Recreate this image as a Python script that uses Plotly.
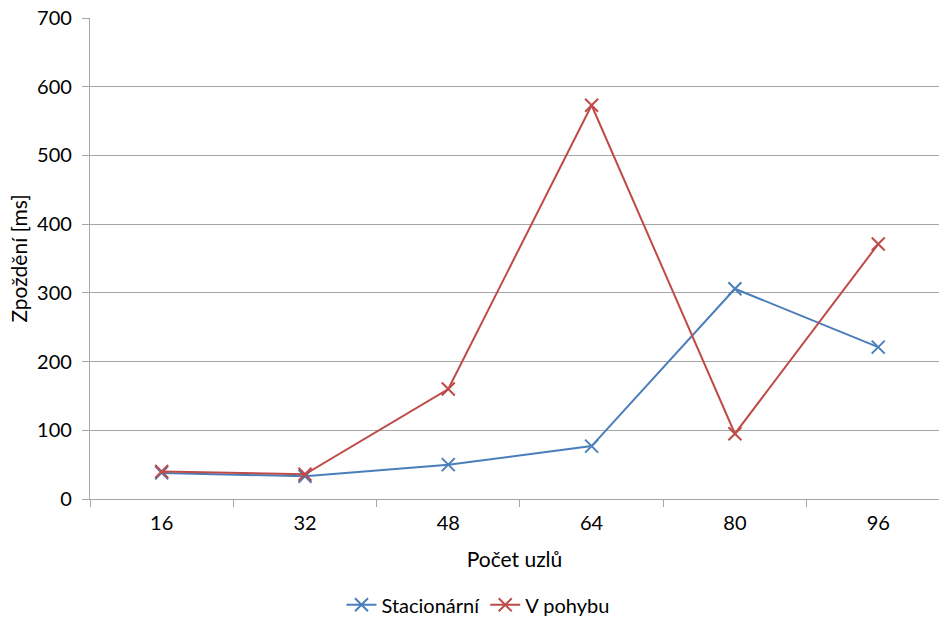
import plotly.graph_objects as go

categories = ["16", "32", "48", "64", "80", "96"]
stacionarni = [38, 33, 50, 77, 306, 221]
v_pohybu = [40, 36, 160, 573, 95, 371]
y_ticks = [0, 100, 200, 300, 400, 500, 600, 700]

blue = "#4A7EBB"
red = "#BE4B48"
grid = "#A6A6A6"
font = "Lato"

fig = go.Figure()
for name, vals, col in [("Stacionární", stacionarni, blue), ("V pohybu", v_pohybu, red)]:
    fig.add_trace(go.Scatter(
        x=categories, y=vals, name=name, mode="lines+markers",
        line=dict(color=col, width=2),
        marker=dict(symbol="x-thin", size=13, line=dict(color=col, width=2), color=col),
    ))

fig.update_layout(
    width=939, height=618,
    margin=dict(l=90, r=0, t=18, b=119, autoexpand=False),
    paper_bgcolor="white", plot_bgcolor="white",
    font=dict(family=font, size=20, color="#000000"),
    showlegend=True,
    legend=dict(orientation="h", x=0.457, xanchor="center", y=-0.22, yanchor="middle",
                font=dict(size=20), itemwidth=30),
    xaxis=dict(
        type="category", range=[-0.5, 5.424],
        tickson="boundaries", ticks="outside", ticklen=7, tickcolor=grid, tickwidth=1.3,
        showline=True, linecolor=grid, linewidth=1.3, showgrid=False,
        ticklabelstandoff=6,
        title=dict(text="Počet uzlů", standoff=19, font=dict(size=21)),
        tickfont=dict(size=20),
    ),
    yaxis=dict(
        range=[0, 700], tickvals=y_ticks, ticks="outside", ticklen=7, tickcolor=grid, tickwidth=1.3,
        showline=True, linecolor=grid, linewidth=1.3, showgrid=True, gridcolor=grid, gridwidth=1.3,
        zeroline=False, ticklabelstandoff=6,
        title=dict(text="Zpoždění [ms]", standoff=3, font=dict(size=21)),
        tickfont=dict(size=20),
    ),
)

fig.write_html("out.html")
